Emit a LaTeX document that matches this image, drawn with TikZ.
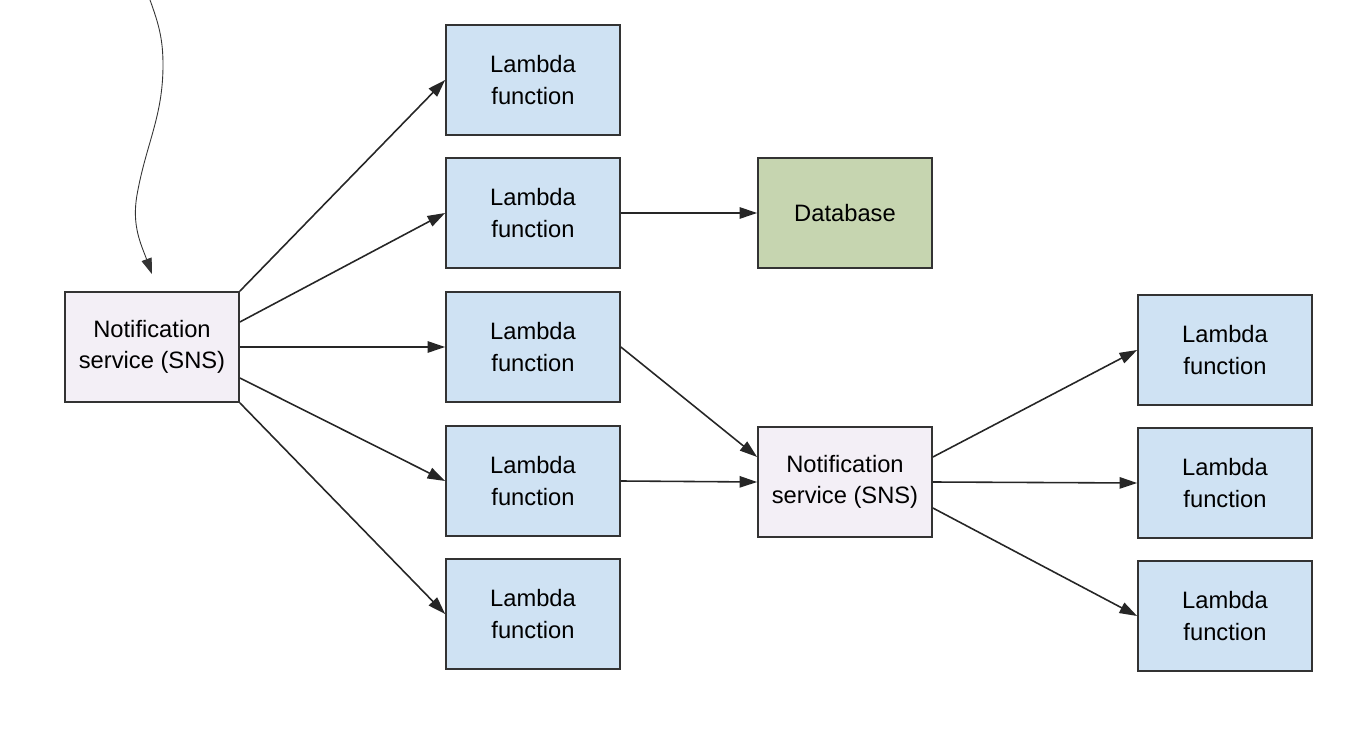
\documentclass[tikz,border=0pt]{standalone}
\usepackage{fontspec}
\setmainfont{Liberation Sans}
\usetikzlibrary{arrows.meta}
\definecolor{lambdablue}{HTML}{CFE2F3}
\definecolor{dbgreen}{HTML}{C6D5B0}
\definecolor{snsgray}{HTML}{F3EFF6}
\begin{document}
\begin{tikzpicture}[x=0.02cm,y=-0.02cm,
    box/.style={draw=black!80,line width=1pt,minimum width=3.48cm,minimum height=2.2cm,
      align=center,font=\fontsize{13.5}{18}\selectfont},
    lambda/.style={box,fill=lambdablue},
    sns/.style={box,fill=snsgray},
    db/.style={box,fill=dbgreen},
    flow/.style={draw=black!85,line width=0.9pt,-{Triangle[length=10pt,width=6.5pt]}}]
    \useasboundingbox (0,0) rectangle (1360,746);
    % first fan-out
    \node[sns] (sns1) at (152,347) {Notification\\service (SNS)};
    \node[lambda] (l1) at (533,80) {Lambda\\function};
    \node[lambda] (l2) at (533,213) {Lambda\\function};
    \node[lambda] (l3) at (533,347) {Lambda\\function};
    \node[lambda] (l4) at (533,481) {Lambda\\function};
    \node[lambda] (l5) at (533,614) {Lambda\\function};
    \node[db] (db) at (845,213) {Database};
    % second fan-out
    \node[sns] (sns2) at (845,482) {Notification\\service (SNS)};
    \node[lambda] (r1) at (1225,350) {Lambda\\function};
    \node[lambda] (r2) at (1225,483) {Lambda\\function};
    \node[lambda] (r3) at (1225,616) {Lambda\\function};

    \coordinate (in) at (150,0);
    \coordinate (intip) at ([yshift=0.34cm]sns1.north);
    \draw[black!80,line width=0.5pt,-{Triangle[length=9pt,width=6pt]}]
      (in) to[out=-70,in=90] (163,65) to[out=-90,in=80] (137,195) to[out=-100,in=110] (intip);

    \draw[flow] (sns1.north east) -- (l1.west);
    \draw[flow] ([yshift=0.5cm]sns1.east) -- (l2.west);
    \draw[flow] (sns1.east) -- (l3.west);
    \draw[flow] ([yshift=-0.62cm]sns1.east) -- (l4.west);
    \draw[flow] (sns1.south east) -- (l5.west);

    \draw[flow] (l2.east) -- (db.west);
    \draw[flow] (l3.east) -- ([yshift=0.5cm]sns2.west);
    \draw[flow] (l4.east) -- (sns2.west);

    \draw[flow] ([yshift=0.5cm]sns2.east) -- (r1.west);
    \draw[flow] (sns2.east) -- (r2.west);
    \draw[flow] ([yshift=-0.52cm]sns2.east) -- (r3.west);
\end{tikzpicture}
\end{document}
